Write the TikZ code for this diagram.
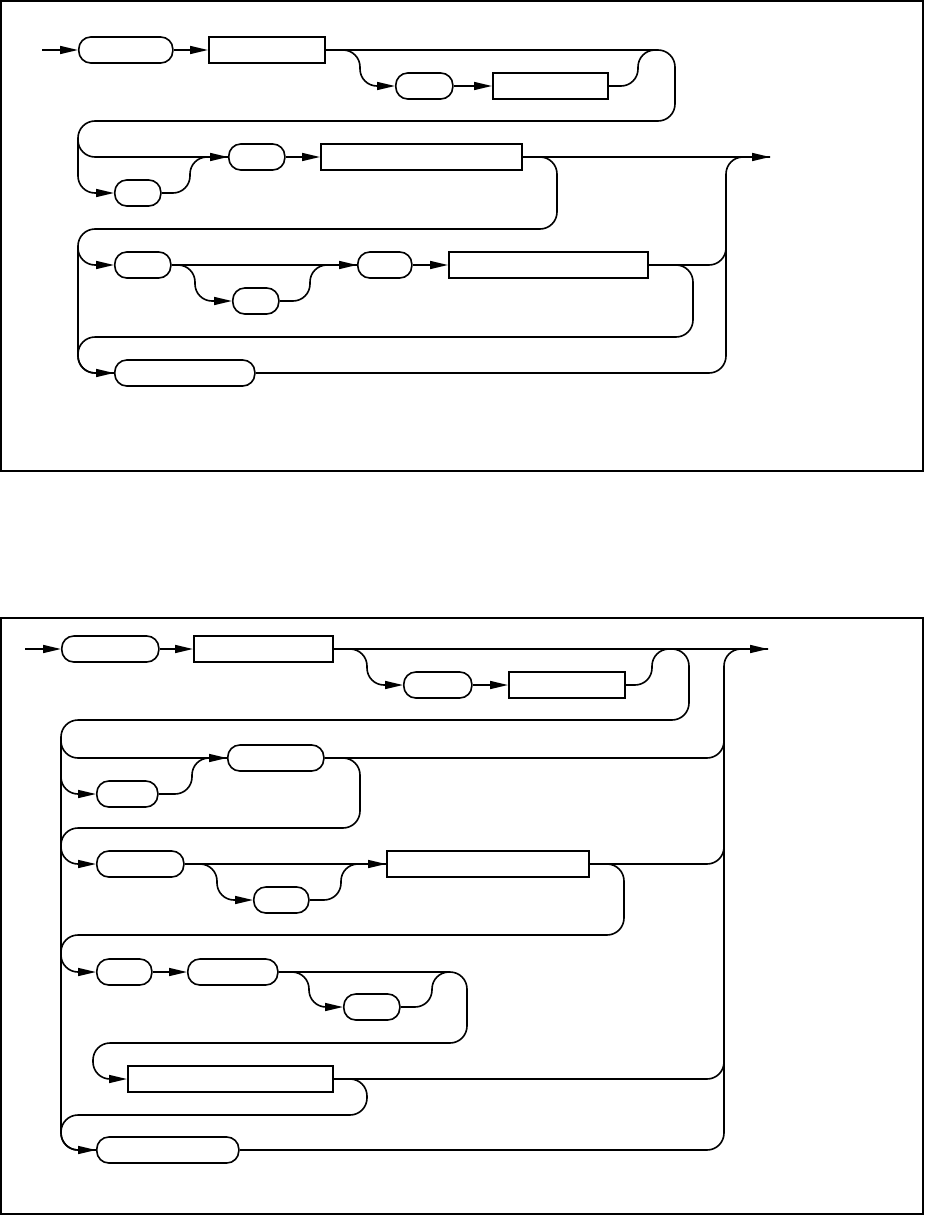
\documentclass[tikz,border=0pt]{standalone}
\usepackage{tikz}
\usetikzlibrary{arrows.meta}

\begin{document}
\begin{tikzpicture}[x=1pt, y=-1pt, >={Triangle[length=18pt,width=8pt]},
  term/.style={draw, line width=1.6pt, rounded corners=12pt, inner sep=0pt, minimum height=26pt},
  nterm/.style={draw, line width=1.6pt, inner sep=0pt, minimum height=26pt},
  rail/.style={line width=1.6pt, rounded corners=17pt},
  panel/.style={line width=1.1pt}]
\useasboundingbox (0,0) rectangle (925,1215);
% frames
\draw[panel] (1,1) rectangle (923,471);
\draw[panel] (1,618) rectangle (923,1214);

% ---------- upper diagram ----------
\coordinate (in1) at (42,50);
\coordinate (out1) at (770,157);
\node[term, minimum width=94pt, anchor=west] (t1) at (78,50) {};
\node[nterm, minimum width=116pt, anchor=west] (t2) at (208,50) {};
\node[term, minimum width=57pt, anchor=west] (t3) at (395,86) {};
\node[nterm, minimum width=115pt, anchor=west] (t4) at (492,86) {};
\node[term, minimum width=56pt, anchor=west] (t5) at (228,157) {};
\node[nterm, minimum width=201pt, anchor=west] (t6) at (320,157) {};
\node[term, minimum width=46pt, anchor=west] (t7) at (114,193) {};
\node[term, minimum width=56pt, anchor=west] (t8) at (114,265) {};
\node[term, minimum width=46pt, anchor=west] (t9) at (232,301) {};
\node[term, minimum width=54pt, anchor=west] (t10) at (357,265) {};
\node[nterm, minimum width=199pt, anchor=west] (t11) at (448,265) {};
\node[term, minimum width=140pt, anchor=west] (t12) at (114,373) {};
% row 1
\draw[rail, ->] (in1) -- (t1.west);
\draw[rail, ->] (t1.east) -- (t2.west);
\draw[rail, ->] (t2.east) -- (675,50) -- (675,121) -- (78,121) -- (78,157) -- (t5.west);
\draw[rail, ->] (t2.east) -| (360,86) -- (t3.west);
\draw[rail, ->] (t3.east) -- (t4.west);
\draw[rail] (t4.east) -| (638,50) -- (658,50);
% row 2
\draw[rail, ->] (78,139) -- (78,193) -- (t7.west);
\draw[rail] (t7.east) -| (190,157) -- (t5.west);
\draw[rail, ->] (t5.east) -- (t6.west);
\draw[rail, ->] (t6.east) -- (out1);
\draw[rail, ->] (t6.east) -- (557,157) -- (557,229) -- (78,229) -- (78,265) -- (t8.west);
% row 3
\draw[rail, ->] (78,247) -- (78,373) -- (t12.west);
\draw[rail, ->] (t8.east) -- (t10.west);
\draw[rail, ->] (t8.east) -| (195,301) -- (t9.west);
\draw[rail] (t9.east) -| (310,265) -- (t10.west);
\draw[rail, ->] (t10.east) -- (t11.west);
\draw[rail] (t11.east) -- (726,265) -- (726,240);
\draw[rail] (t11.east) -- (693,265) -- (693,337) -- (78,337) -- (78,373) -- (t12.west);
% row 4 and exit rail
\draw[rail] (t12.east) -- (726,373) -- (726,157) -- (out1);

% ---------- lower diagram ----------
\coordinate (in2) at (25,649);
\coordinate (out2) at (768,649);
\node[term, minimum width=97pt, anchor=west] (b1) at (61,649) {};
\node[nterm, minimum width=139pt, anchor=west] (b2) at (193,649) {};
\node[term, minimum width=68pt, anchor=west] (b3) at (403,685) {};
\node[nterm, minimum width=116pt, anchor=west] (b4) at (508,685) {};
\node[term, minimum width=96pt, anchor=west] (b5) at (227,758) {};
\node[term, minimum width=61pt, anchor=west] (b6) at (96,794) {};
\node[term, minimum width=87pt, anchor=west] (b7) at (96,864) {};
\node[term, minimum width=55pt, anchor=west] (b8) at (253,900) {};
\node[nterm, minimum width=202pt, anchor=west] (b9) at (386,864) {};
\node[term, minimum width=55pt, anchor=west] (b10) at (96,972) {};
\node[term, minimum width=90pt, anchor=west] (b11) at (187,972) {};
\node[term, minimum width=56pt, anchor=west] (b12) at (343,1007) {};
\node[nterm, minimum width=205pt, anchor=west] (b13) at (127,1079) {};
\node[term, minimum width=142pt, anchor=west] (b14) at (96,1150) {};
% row 1
\draw[rail, ->] (in2) -- (b1.west);
\draw[rail, ->] (b1.east) -- (b2.west);
\draw[rail, ->] (b2.east) -- (out2);
\draw[rail, ->] (b2.east) -| (367,685) -- (b3.west);
\draw[rail, ->] (b3.east) -- (b4.west);
\draw[rail] (b4.east) -| (652,649) -- (672,649);
\draw[rail, ->] (b2.east) -- (689,649) -- (689,720) -- (61,720) -- (61,758) -- (b5.west);
% left rail
\draw[rail, ->] (61,737) -- (61,1150) -- (b14.west);
% row 2
\draw[rail, ->] (61,770) -- (61,794) -- (b6.west);
\draw[rail] (b6.east) -| (192,758) -- (b5.west);
\draw[rail] (b5.east) -- (724,758) -- (724,740);
\draw[rail, ->] (b5.east) -- (360,758) -- (360,828) -- (61,828) -- (61,864) -- (b7.west);
% row 3
\draw[rail, ->] (b7.east) -- (b9.west);
\draw[rail, ->] (b7.east) -| (217,900) -- (b8.west);
\draw[rail] (b8.east) -| (341,864) -- (b9.west);
\draw[rail] (b9.east) -- (724,864) -- (724,840);
\draw[rail, ->] (b9.east) -- (624,864) -- (624,935) -- (61,935) -- (61,972) -- (b10.west);
% row 4
\draw[rail, ->] (b10.east) -- (b11.west);
\draw[rail, ->] (b11.east) -- (467,972) -- (467,1043) -- (93,1043) -- (93,1079) -- (b13.west);
\draw[rail, ->] (b11.east) -| (309,1007) -- (b12.west);
\draw[rail] (b12.east) -| (432,972) -- (450,972);
% row 5
\draw[rail] (b13.east) -- (724,1079) -- (724,1060);
\draw[rail] (b13.east) -- (367,1079) -- (367,1115) -- (61,1115) -- (61,1150) -- (b14.west);
% row 6 and exit rail
\draw[rail] (b14.east) -- (724,1150) -- (724,649) -- (out2);
\end{tikzpicture}
\end{document}
